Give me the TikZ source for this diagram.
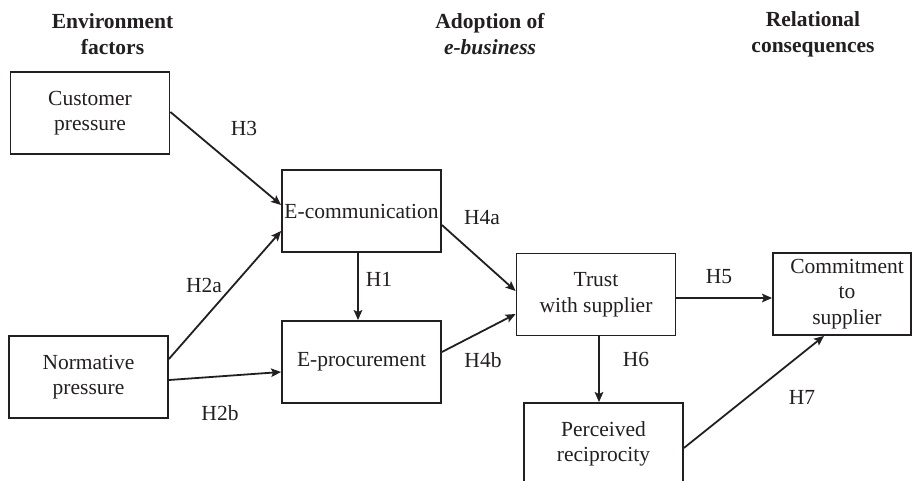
\documentclass[tikz,border=0pt]{standalone}
\usepackage{fontspec}
\setmainfont{Liberation Serif}
\usetikzlibrary{arrows.meta,calc}
\definecolor{ink}{HTML}{231F20}
\begin{document}
\begin{tikzpicture}[x=1pt,y=-1pt,
  txt/.style={font=\fontsize{21.5}{25.5}\selectfont, text=ink},
  box/.style={txt, draw=ink, line width=1.8pt, minimum width=159pt, minimum height=82pt, align=center, inner sep=0pt},
  hyp/.style={txt, inner sep=0pt},
  head/.style={font=\fontsize{21.5}{26}\selectfont\bfseries, text=ink, align=center, inner sep=0pt},
  arr/.style={draw=ink, line width=1.8pt, -{Stealth[length=10pt,width=8.5pt,inset=2pt]}}]
\clip (0,0) rectangle (912,481);
\fill[white] (0,0) rectangle (912,481);
% headers
\node[head] (hA) at (112.5,34) {Environment\\factors};
\node[head] (hB) at (490,34) {Adoption of\\\textit{e-business}};
\node[head] (hC) at (813,34) {Relational\\consequences};
% boxes
\node[box] (cust) at (90,113) {Customer\\pressure};
\node[box] (norm) at (88.5,377) {Normative\\pressure};
\node[box] (ecom) at (361.5,211) {E-communication};
\node[box] (eproc) at (361.5,362) {E-procurement};
\node[box] (trust) at (596,294.5) {Trust\\with supplier};
\node[box, minimum width=138pt] (commit) at (842,294) {\hspace*{10pt}Commitment\\\hspace*{10pt}to\\\hspace*{10pt}supplier};
\node[box] (recip) at (603.5,444) {Perceived\\reciprocity};
% connectors
\draw[arr] ($(cust.east)+(0,-1)$) -- ($(ecom.west)+(0,-6)$);
\draw[arr] ($(norm.east)+(0,-18)$) -- ($(ecom.west)+(0,20)$);
\draw[arr] ($(norm.east)+(0,3)$) -- ($(eproc.west)+(0,10)$);
\draw[arr] ($(ecom.south)+(-3.5,0)$) -- ($(eproc.north)+(-3.5,0)$);
\draw[arr] ($(ecom.east)+(0,14)$) -- ($(trust.west)+(0,-3.5)$);
\draw[arr] ($(eproc.east)+(0,-10)$) -- ($(trust.west)+(0,19.5)$);
\draw[arr] ($(trust.east)+(0,3.5)$) -- ($(commit.west)+(0,4)$);
\draw[arr] ($(trust.south)+(3,0)$) -- ($(recip.north)+(-4.5,0)$);
\draw[arr] ($(recip.east)+(0,4)$) -- ($(commit.south)+(-18,0)$);
% labels
\node[hyp] (l3) at (244,128) {H3};
\node[hyp] (l2a) at (204,285) {H2a};
\node[hyp] (l2b) at (220,413) {H2b};
\node[hyp] (l1) at (379,279) {H1};
\node[hyp] (l4a) at (482,218) {H4a};
\node[hyp] (l4b) at (483,360) {H4b};
\node[hyp] (l5) at (719,277) {H5};
\node[hyp] (l6) at (636,359) {H6};
\node[hyp] (l7) at (802,397) {H7};
\end{tikzpicture}
\end{document}
